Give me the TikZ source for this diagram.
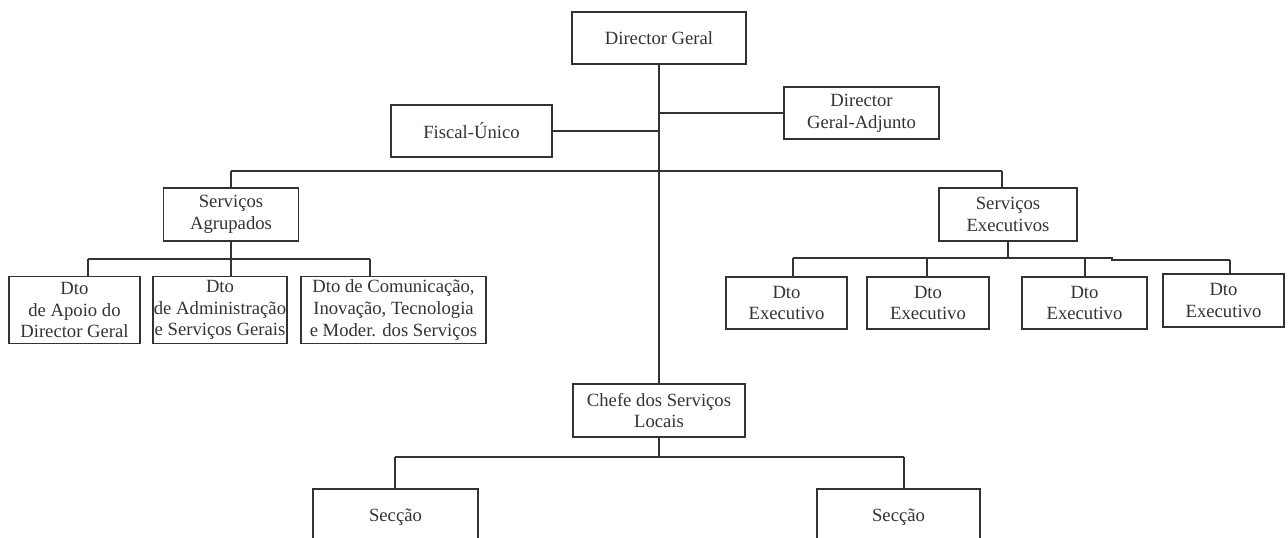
\documentclass[tikz,border=0pt]{standalone}
\usepackage{fontspec}
\setmainfont{Liberation Serif}
\definecolor{ink}{HTML}{333333}
\begin{document}
\begin{tikzpicture}[x=0.75pt,y=-0.75pt,
  bx/.style 2 args={draw=ink, line width=0.9pt, text=ink, align=center, inner sep=0pt,
    minimum width=#1*0.75pt, minimum height=#2*0.75pt, font=\fontsize{14}{16.4}\selectfont},
  ln/.style={draw=ink, line width=0.9pt}]
\path[use as bounding box] (0,0) rectangle (1288,538);
\clip (0,0) rectangle (1288,538);
% boxes
\node[bx={174}{52}] (dg) at (659,38) {Director Geral};
\node[bx={155}{52}] (adj) at (861.5,113) {Director\\Geral-Adjunto};
\node[bx={161}{52}] (fis) at (471.5,131) {Fiscal-Único};
\node[bx={135}{53}] (agr) at (231,214.5) {Serviços\\Agrupados};
\node[bx={138}{53}] (exe) at (1008,214.5) {Serviços\\Executivos};
\node[bx={131}{67}] (d1) at (74.5,310) {Dto\\de Apoio do\\Director Geral};
\node[bx={134}{67}] (d2) at (220,310) {Dto\\de Administração\\e Serviços Gerais};
\node[bx={185}{67}] (d3) at (393.5,310) {Dto de Comunicação,\\Inovação, Tecnologia\\e Moder. dos Serviços};
\node[bx={121}{52}] (e1) at (786.5,303) {Dto\\Executivo};
\node[bx={122}{52}] (e2) at (928,303) {Dto\\Executivo};
\node[bx={125}{52}] (e3) at (1084.5,303) {Dto\\Executivo};
\node[bx={121}{53}] (e4) at (1223.5,300.5) {Dto\\Executivo};
\node[bx={172}{53}] (ch) at (659,410.5) {Chefe dos Serviços\\Locais};
\node[bx={165}{56}] (s1) at (395.5,517) {Secção};
\node[bx={163}{56}] (s2) at (898.5,517) {Secção};
% bus coordinates
\coordinate (busA) at (231,171);
\coordinate (busB) at (1002,171);
\coordinate (a1) at (88,259);
\coordinate (a3) at (370,259);
\coordinate (b1) at (793,258);
\coordinate (b2) at (927,258);
\coordinate (b3) at (1085,258);
\coordinate (bj) at (1112,258);
\coordinate (b4) at (1230,260);
\coordinate (c1) at (395,457);
\coordinate (c2) at (904,457);
% connectors
\draw[ln] (dg.south) -- (dg.south |- ch.north);
\draw[ln] (adj.west) -- (adj.west -| dg.south);
\draw[ln] (fis.east) -- (fis.east -| dg.south);
\draw[ln] (busA) -- (busB);
\draw[ln] (busA) -- (busA |- agr.north);
\draw[ln] (busB) -- (busB |- exe.north);
\draw[ln] (agr.south) -- (agr.south |- a1);
\draw[ln] (a1) -- (a3);
\draw[ln] (a1) -- (a1 |- d1.north);
\draw[ln] (agr.south |- a1) -- (agr.south |- d2.north);
\draw[ln] (a3) -- (a3 |- d3.north);
\draw[ln] (exe.south) -- (exe.south |- b1);
\draw[ln] (b1) -- (bj) -- (bj |- b4) -- (b4);
\draw[ln] (b1) -- (b1 |- e1.north);
\draw[ln] (b2) -- (b2 |- e2.north);
\draw[ln] (b3) -- (b3 |- e3.north);
\draw[ln] (b4) -- (b4 |- e4.north);
\draw[ln] (ch.south) -- (ch.south |- c1);
\draw[ln] (c1) -- (c2);
\draw[ln] (c1) -- (c1 |- s1.north);
\draw[ln] (c2) -- (c2 |- s2.north);
\end{tikzpicture}
\end{document}
